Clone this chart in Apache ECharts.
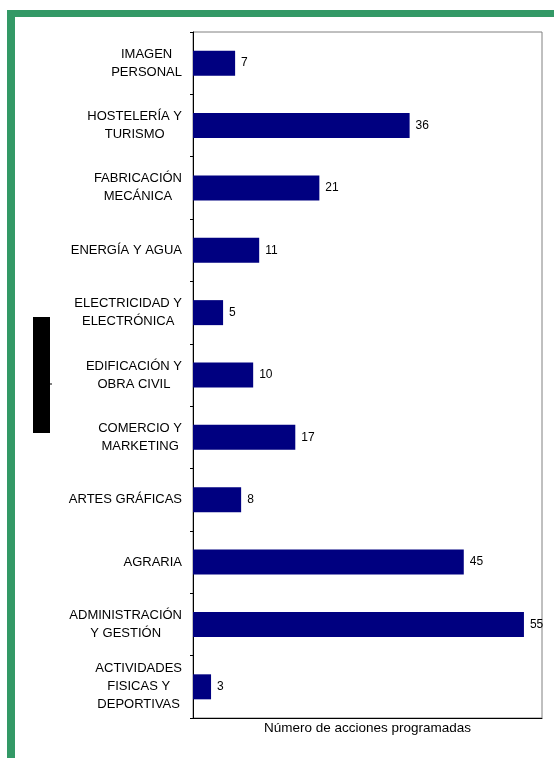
<!DOCTYPE html>
<html>
<head>
<meta charset="utf-8">
<script src="https://cdn.jsdelivr.net/npm/echarts@6/dist/echarts.min.js"></script>
<style>
  html, body { margin: 0; padding: 0; background: #fff; }
  #chart { width: 554px; height: 758px; }
</style>
</head>
<body>
<div id="chart"></div>
<script>
// categories listed bottom -> top
var categories = [
  'ACTIVIDADES\nFISICAS Y\nDEPORTIVAS',
  'ADMINISTRACIÓN\nY GESTIÓN',
  'AGRARIA',
  'ARTES GRÁFICAS',
  'COMERCIO Y\nMARKETING',
  'EDIFICACIÓN Y\nOBRA CIVIL',
  'ELECTRICIDAD Y\nELECTRÓNICA',
  'ENERGÍA Y AGUA',
  'FABRICACIÓN\nMECÁNICA',
  'HOSTELERÍA Y\nTURISMO',
  'IMAGEN\nPERSONAL'
];
var acciones = [3, 55, 45, 8, 17, 10, 5, 11, 21, 36, 7];
var axisName = 'Número de acciones programadas';

var font = '"Liberation Sans", Arial, sans-serif';
var green = '#339966';

var chart = echarts.init(document.getElementById('chart'));

chart.setOption({
  animation: false,
  backgroundColor: '#fff',
  textStyle: { fontFamily: font },
  grid: {
    left: 193, right: 12, top: 32, bottom: 40,
    show: true,
    borderColor: '#808080',
    borderWidth: 1
  },
  xAxis: {
    type: 'value',
    min: 0,
    max: 58,
    name: axisName,
    nameLocation: 'middle',
    nameGap: 3,
    nameTextStyle: { color: '#000', fontSize: 13.5, fontFamily: font },
    axisLine: { show: true, lineStyle: { color: '#000', width: 1 } },
    axisTick: { show: false },
    axisLabel: { show: false },
    splitLine: { show: false }
  },
  yAxis: {
    type: 'category',
    data: categories,
    axisLine: { show: true, lineStyle: { color: '#000', width: 1 } },
    axisTick: { show: true, length: 3, lineStyle: { color: '#000' } },
    axisLabel: {
      margin: 11,
      color: '#000',
      fontSize: 13,
      fontFamily: font,
      formatter: function (v) {
        return v.split('\n').map(function (l) { return '{c|' + l + '}'; }).join('\n');
      },
      rich: {
        c: { align: 'center', fontSize: 13, lineHeight: 18, color: '#000', fontFamily: font }
      }
    },
    splitLine: { show: false }
  },
  series: [{
    type: 'bar',
    data: acciones,
    barWidth: 25,
    itemStyle: { color: '#000080' },
    label: {
      show: true,
      position: 'right',
      distance: 6,
      color: '#000',
      fontSize: 12,
      fontFamily: font
    }
  }],
  graphic: [
    { type: 'rect', shape: { x: 7, y: 10, width: 547, height: 7 }, style: { fill: green } },
    { type: 'rect', shape: { x: 7, y: 10, width: 8, height: 748 }, style: { fill: green } },
    { type: 'rect', shape: { x: 33, y: 317, width: 17, height: 116 }, style: { fill: '#000' } },
    { type: 'line', shape: { x1: 50, y1: 384, x2: 52, y2: 384 }, style: { stroke: '#000', lineWidth: 1 } }
  ]
});
</script>
</body>
</html>
